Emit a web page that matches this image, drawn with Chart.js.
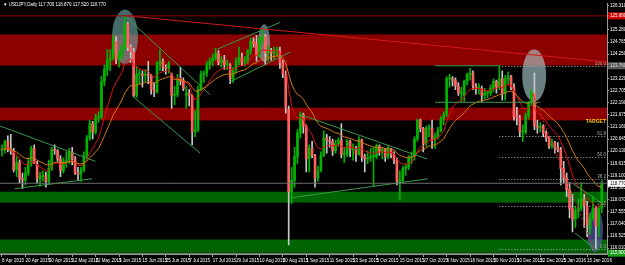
<!DOCTYPE html>
<html>
<head>
<meta charset="utf-8">
<script src="https://cdn.jsdelivr.net/npm/chart.js@4.4.1/dist/chart.umd.min.js"></script>
<style>
html, body { margin: 0; padding: 0; background: #000; }
canvas { display: block; }
</style>
</head>
<body>
<canvas id="c" width="625" height="265"></canvas>
<script>
// USDJPY daily candles, 8 Apr 2015 .. 22 Jan 2016

const symbol = 'USDJPY,Daily';
const dateTicks = ['8 Apr 2015', '20 Apr 2015', '30 Apr 2015', '12 May 2015', '22 May 2015', '3 Jun 2015',
    '15 Jun 2015', '25 Jun 2015', '7 Jul 2015', '17 Jul 2015', '29 Jul 2015', '10 Aug 2015', '20 Aug 2015',
    '1 Sep 2015', '11 Sep 2015', '23 Sep 2015', '5 Oct 2015', '15 Oct 2015', '27 Oct 2015', '6 Nov 2015',
    '18 Nov 2015', '30 Nov 2015', '10 Dec 2015', '22 Dec 2015', '5 Jan 2016', '15 Jan 2016'];
const barsPerTick = 8;

const opens = [
    120.18,120.20,120.55,120.20,120.15,119.35,119.65,118.95,118.90,119.20,
    119.65,120.25,119.60,118.95,119.05,119.10,118.85,119.40,120.20,120.15,
    119.80,119.30,119.70,119.75,120.10,119.80,119.20,119.15,119.35,119.95,
    120.70,121.30,120.95,121.55,121.60,123.10,123.60,124.00,124.10,124.80,
    124.05,124.20,124.50,125.55,124.55,124.35,122.50,123.40,123.40,123.35,
    123.40,123.35,122.75,122.65,123.85,123.95,123.70,123.65,123.40,122.50,
    122.55,123.20,123.10,122.50,122.60,122.50,120.95,121.05,122.75,123.40,
    123.45,123.80,123.95,124.05,124.30,123.90,124.00,123.80,123.80,123.20,
    123.60,123.95,124.10,123.90,123.95,124.40,124.80,124.70,124.20,124.90,
    125.00,124.30,124.40,124.30,124.40,124.40,123.90,123.40,121.90,118.40,
    118.90,119.90,120.90,121.70,121.20,119.80,120.25,119.95,119.00,119.30,
    119.95,120.70,120.60,120.55,120.15,120.45,120.60,120.00,120.00,120.55,
    120.20,120.20,120.00,120.60,119.90,119.80,119.85,119.90,119.90,120.35,
    120.10,120.20,119.90,120.20,120.00,119.75,118.85,118.90,119.40,119.45,
    119.85,119.90,120.65,121.45,121.10,120.45,121.10,121.10,120.60,120.75,
    121.00,121.50,121.70,123.20,123.20,123.15,122.90,122.60,122.50,123.10,
    123.40,123.45,122.90,122.80,122.80,122.50,122.60,122.60,122.80,123.10,
    122.85,123.20,122.60,123.20,123.30,122.85,121.60,121.55,120.95,120.95,
    121.65,122.20,122.60,121.20,121.15,121.20,120.90,120.70,120.35,120.50,
    120.30,120.20,119.40,119.00,118.50,117.70,117.25,117.60,117.70,118.10,
    117.80,116.85,117.30,117.70,116.95,117.70
];
const highs = [
    120.40,120.60,120.78,120.85,120.25,119.90,119.75,119.20,119.45,119.85,
    120.35,120.40,119.70,119.25,119.30,119.25,119.75,120.30,120.40,120.20,
    119.95,119.85,120.10,120.25,120.30,119.90,119.45,119.45,120.10,120.80,
    121.45,121.40,121.70,121.80,123.30,123.80,124.45,124.45,125.05,125.00,
    124.40,124.65,125.85,125.60,124.65,124.50,123.75,123.60,123.55,123.60,
    123.95,123.40,123.05,123.95,124.45,124.05,123.80,123.95,123.45,122.90,
    123.40,123.70,123.25,122.90,122.75,122.55,121.85,122.90,123.55,123.55,
    123.95,124.10,124.25,124.50,124.40,124.15,124.20,124.00,123.85,123.70,
    124.10,124.55,124.30,124.15,124.45,124.95,124.95,125.05,125.00,125.30,
    125.10,124.60,124.50,124.55,124.55,124.55,124.00,123.55,122.05,119.45,
    120.30,121.05,121.80,121.75,121.25,120.40,120.55,120.00,119.50,120.10,
    121.00,120.85,120.75,120.65,120.60,120.70,121.30,120.30,120.65,120.60,
    120.45,120.35,120.75,120.65,120.00,120.15,120.25,120.30,120.45,120.40,
    120.30,120.25,120.35,120.25,120.10,119.85,119.30,119.50,119.60,119.95,
    120.10,120.75,121.50,121.50,121.15,121.20,121.25,121.45,120.90,121.15,
    121.60,121.80,123.30,123.40,123.30,123.25,123.05,122.85,123.15,123.45,
    123.65,123.55,123.00,123.00,122.90,122.80,122.70,122.95,123.20,123.15,
    123.76,123.55,123.35,123.50,123.35,123.00,122.00,121.65,121.25,121.75,
    122.25,122.75,123.45,121.45,121.35,121.25,121.00,120.75,120.65,120.55,
    120.50,120.30,119.70,119.20,118.80,118.30,117.80,118.10,118.80,118.30,
    118.00,117.50,118.20,117.80,117.80,118.87
];
const lows = [
    119.92,120.05,120.10,120.00,119.25,119.05,118.80,118.55,118.70,119.10,
    119.50,119.60,118.80,118.65,118.85,118.60,118.75,119.30,120.00,119.70,
    119.05,119.20,119.45,119.60,119.55,119.15,118.90,118.85,119.25,119.85,
    120.60,120.65,120.85,121.35,121.50,122.90,123.35,123.55,124.00,123.85,
    123.70,124.05,124.45,124.40,123.90,122.45,122.40,123.00,122.85,123.10,
    123.00,122.55,122.45,122.60,123.55,123.55,123.40,123.45,121.95,122.10,
    122.45,122.95,122.70,121.95,122.05,120.40,120.75,120.95,122.70,123.05,
    123.30,123.60,123.75,124.00,123.80,123.70,123.60,123.60,123.00,123.05,
    123.45,123.80,123.75,123.75,123.85,124.25,124.55,123.95,124.10,124.70,
    123.80,123.95,124.00,124.05,124.20,123.65,123.25,121.75,116.15,117.90,
    118.60,119.60,120.70,120.90,119.25,119.25,119.85,118.60,118.85,119.25,
    119.90,120.05,120.30,119.95,120.05,120.35,119.85,119.65,119.90,119.90,
    119.75,119.70,119.95,119.70,119.25,119.60,119.70,118.65,119.80,119.95,
    119.80,119.70,119.80,119.85,119.60,118.70,118.05,118.80,119.10,119.35,
    119.60,119.75,120.55,120.95,120.10,120.35,120.75,120.25,120.25,120.65,
    120.95,121.25,121.60,122.85,122.90,122.75,122.50,122.25,122.25,122.95,
    123.15,122.75,122.55,122.55,122.25,122.35,122.40,122.50,122.65,122.60,
    122.75,122.30,122.30,123.00,122.75,121.45,121.25,120.75,120.55,120.85,
    121.50,122.05,121.05,120.90,120.95,120.75,120.55,120.25,120.25,120.05,
    120.10,118.70,118.80,118.20,117.30,116.70,116.90,117.30,117.60,116.90,
    116.50,116.60,117.20,115.98,116.50,117.52
];
const closes = [
    120.20,120.55,120.20,120.15,119.35,119.65,118.95,118.90,119.20,119.65,
    120.25,119.60,118.95,119.05,119.10,118.85,119.40,120.20,120.15,119.80,
    119.30,119.70,119.75,120.10,119.80,119.20,119.15,119.35,119.95,120.70,
    121.30,120.95,121.55,121.60,123.10,123.60,124.00,124.10,124.80,124.05,
    124.20,124.50,125.55,124.55,124.35,122.50,123.40,123.40,123.35,123.40,
    123.35,122.75,122.65,123.85,123.95,123.70,123.65,123.85,122.50,122.55,
    123.20,123.10,122.80,122.60,122.50,120.95,121.05,122.75,123.40,123.45,
    123.80,123.95,124.05,124.30,123.90,124.00,123.80,123.80,123.20,123.60,
    123.95,124.10,123.90,123.95,124.40,124.80,124.70,124.20,124.90,125.00,
    124.30,124.40,124.30,124.40,124.40,123.90,123.40,122.00,118.40,118.90,
    119.90,120.90,121.70,121.20,119.80,120.25,119.95,119.00,119.30,119.95,
    120.70,120.60,120.55,120.15,120.45,120.60,120.00,120.00,120.55,120.20,
    120.20,120.00,120.60,119.90,119.80,119.85,119.90,119.90,120.35,120.10,
    120.20,119.90,120.20,120.00,119.75,118.85,118.90,119.40,119.45,119.85,
    119.90,120.65,121.45,121.10,120.45,121.10,121.10,120.60,120.75,121.00,
    121.50,121.70,123.20,123.20,123.15,122.90,122.60,122.60,123.10,123.40,
    123.45,122.90,122.80,122.80,122.50,122.60,122.60,122.80,123.10,122.85,
    123.20,122.60,123.20,123.30,122.85,121.60,121.55,120.95,120.95,121.65,
    122.20,122.60,121.20,121.15,121.20,120.90,120.70,120.35,120.50,120.30,
    120.20,119.40,119.00,118.50,117.70,117.25,117.60,117.70,118.10,117.80,
    117.00,117.30,117.70,116.95,117.70,118.77
];

// price axis labels
const yTickValues = [126.310, 125.795, 125.280, 124.765, 124.250, 123.735, 123.220, 122.705, 122.190,
    121.675, 121.160, 120.645, 120.130, 119.615, 119.100, 118.585, 118.070, 117.555, 117.040, 116.525, 116.010];

// drawn objects, in [bar, price] units
const redZones = [[123.77, 125.09], [121.44, 121.98]];
const greenZones = [[117.95, 118.41], [115.85, 116.38]];
const greenLines = [
    [-0.6, 121.20, 32.0, 119.70],
    [4.4, 118.54, 30.8, 118.96],
    [42.0, 125.89, 71.1, 122.53],
    [44.8, 122.45, 67.7, 120.05],
    [73.5, 124.46, 95.0, 125.60],
    [78.0, 123.08, 98.5, 124.34],
    [101.9, 121.69, 145.3, 119.80],
    [99.1, 118.16, 145.6, 118.96],
    [148.0, 122.21, 184.0, 122.21],
    [148.0, 123.76, 170.0, 123.76],
    [195.2, 118.75, 206.2, 117.83],
    [195.9, 116.65, 203.4, 115.93]
];
const highLine = 125.88;
const redTrend = [42.0, 125.89, 206.8, 123.92];
const redDotted = [181.5, 122.53, 202.5, 115.95];
const supportLine = 115.80;
const fibHigh = 123.76;
const fibLow = 115.98;
const fibFromBar = 170;
const fibLevels = [0, 23.6, 38.2, 50, 61.8, 100];
const targetPrice = 121.40;
// ellipses: centre bar, centre price, half width in bars, half height in price
const ellipses = [
    [42.05, 124.99, 4.44, 1.155],
    [89.6, 124.72, 2.05, 0.80],
    [181.9, 123.35, 4.1, 1.11],
    [202.7, 116.80, 2.74, 0.945]
];

const last = closes.length - 1;
const X_MIN = -0.68, X_MAX = 206.8;
const FONT = "'Liberation Sans Narrow', 'Liberation Sans', sans-serif";

// moving averages as the terminal computes them from the closes
function ema(src, n) {
    const k = 2 / (n + 1);
    let e = src[0];
    return src.map((v, i) => { e = i ? v * k + e * (1 - k) : v; return { x: i, y: e }; });
}

const seg = (s, color, width, dash) => ({
    type: 'line',
    data: [{ x: s[0], y: s[1] }, { x: s[2], y: s[3] }],
    borderColor: color, borderWidth: width || 1, borderDash: dash || [],
    pointRadius: 0, order: 1
});

const idx = closes.map((_, i) => i);
const bull = i => closes[i] >= opens[i];

const datasets = [
    {
        type: 'bar', label: 'wick', grouped: false, order: 4,
        data: idx.map(i => ({ x: i, y: [lows[i], highs[i]] })),
        backgroundColor: idx.map(i => bull(i) ? '#00b400' : '#c8c8c8'),
        barThickness: 1, borderWidth: 0
    },
    {
        type: 'bar', label: 'body', grouped: false, order: 3,
        data: idx.map(i => ({ x: i, y: [opens[i], closes[i]] })),
        backgroundColor: idx.map(i => bull(i) ? '#00b400' : '#ff6060'),
        barThickness: 2, minBarLength: 1, borderWidth: 0
    },
    { type: 'line', data: ema(closes, 21), borderColor: '#d2780a', borderWidth: 1, pointRadius: 0, order: 2 },
    { type: 'line', data: ema(closes, 10), borderColor: '#e01010', borderWidth: 1, pointRadius: 0, order: 2 },
    seg([X_MIN, highLine, X_MAX, highLine], '#a00000'),
    seg(redTrend, '#d01818'),
    seg(redDotted, '#e02020', 1, [2, 2]),
    seg([X_MIN, closes[last], X_MAX, closes[last]], '#6e6e6e'),
    seg([X_MIN, supportLine, X_MAX, supportLine], '#6cc46c'),
    ...greenLines.map(s => seg(s, '#3a9a4a'))
];

const ellipseColors = ['rgba(110,170,170,0.62)', 'rgba(140,178,192,0.62)', 'rgba(172,206,206,0.62)', 'rgba(95,95,190,0.62)'];

const overlay = {
    id: 'overlay',
    beforeDatasetsDraw(chart) {
        const { ctx, chartArea: a, scales: { x, y } } = chart;
        ctx.save();
        ctx.beginPath();
        ctx.rect(a.left, a.top, a.right - a.left, a.bottom - a.top);
        ctx.clip();
        const band = (z, c) => {
            const y1 = y.getPixelForValue(z[1]), y0 = y.getPixelForValue(z[0]);
            ctx.fillStyle = c;
            ctx.fillRect(a.left, y1, a.right - a.left, y0 - y1);
        };
        redZones.forEach(z => band(z, '#8c0000'));
        greenZones.forEach(z => band(z, '#006400'));

        ellipses.forEach((e, i) => {
            const cx = x.getPixelForValue(e[0]), cy = y.getPixelForValue(e[1]);
            const rx = x.getPixelForValue(e[0] + e[2]) - cx;
            const ry = cy - y.getPixelForValue(e[1] + e[3]);
            ctx.fillStyle = ellipseColors[i];
            ctx.beginPath();
            ctx.ellipse(cx, cy, rx, ry, 0, 0, Math.PI * 2);
            ctx.fill();
        });

        // fibonacci levels
        ctx.strokeStyle = '#b4b4b4';
        ctx.lineWidth = 1;
        ctx.setLineDash([1, 2]);
        ctx.fillStyle = '#a8a8a8';
        ctx.font = '4.5px ' + FONT;
        ctx.textAlign = 'right';
        ctx.textBaseline = 'bottom';
        const fx = x.getPixelForValue(fibFromBar);
        fibLevels.forEach(l => {
            const py = Math.round(y.getPixelForValue(fibLow + (fibHigh - fibLow) * l / 100)) + 0.5;
            ctx.beginPath();
            ctx.moveTo(fx, py);
            ctx.lineTo(a.right, py);
            ctx.stroke();
            ctx.fillText(l.toFixed(1), a.right - 1, py - 0.5);
        });
        ctx.restore();
    },
    afterDraw(chart) {
        const { ctx, chartArea: a, scales: { y } } = chart;
        ctx.save();
        // header
        ctx.fillStyle = '#ffffff';
        ctx.font = '4.5px ' + FONT;
        ctx.textAlign = 'left';
        ctx.textBaseline = 'middle';
        const hdr = [opens[last], highs[last], lows[last], closes[last]].map(v => v.toFixed(3)).join(' ');
        ctx.fillText('\u25BC ' + symbol + ' ' + hdr, 3, 5);

        // target note
        ctx.fillStyle = '#f0c800';
        ctx.font = 'bold 5px ' + FONT;
        ctx.textAlign = 'right';
        ctx.fillText('TARGET', a.right - 1, y.getPixelForValue(targetPrice));

        // price boxes on the axis
        const boxes = [
            [highLine, '#d00000', '#ffffff'],
            [fibHigh, '#5a5a5a', '#dcdcdc'],
            [closes[last], '#ffffff', '#000000'],
            [supportLine, '#1aa01a', '#ffffff']
        ];
        ctx.font = '4.5px ' + FONT;
        ctx.textAlign = 'left';
        boxes.forEach(b => {
            const py = y.getPixelForValue(b[0]);
            ctx.fillStyle = b[1];
            ctx.fillRect(a.right + 1, py - 3.5, chart.width - a.right - 1, 7);
            ctx.fillStyle = b[2];
            ctx.fillText(b[0].toFixed(3), a.right + 3, py);
        });
        ctx.restore();
    }
};

new Chart(document.getElementById('c'), {
    type: 'bar',
    data: { datasets },
    options: {
        responsive: false,
        animation: false,
        events: [],
        layout: { padding: { top: 1, left: 0, right: 0, bottom: 0 } },
        plugins: { legend: { display: false }, tooltip: { enabled: false } },
        scales: {
            x: {
                type: 'linear', min: X_MIN, max: X_MAX, offset: false,
                afterBuildTicks: s => { s.ticks = dateTicks.map((_, k) => ({ value: k * barsPerTick })); },
                afterFit: s => { s.height = 11; },
                ticks: {
                    autoSkip: false, maxRotation: 0, align: 'start', padding: 1,
                    color: '#ffffff', font: { size: 4.5, family: FONT },
                    callback: v => dateTicks[Math.round(v / barsPerTick)]
                },
                grid: { drawOnChartArea: false, offset: false, color: '#9a9a9a', tickLength: 3 },
                border: { color: '#9a9a9a' }
            },
            y: {
                position: 'right', min: 115.766, max: 126.396,
                afterBuildTicks: s => { s.ticks = yTickValues.map(v => ({ value: v })); },
                afterFit: s => { s.width = 18; },
                ticks: {
                    color: '#ffffff', padding: 1, font: { size: 4.5, family: FONT },
                    callback: v => v.toFixed(3)
                },
                grid: { drawOnChartArea: false, color: '#9a9a9a', tickLength: 2 },
                border: { color: '#9a9a9a' }
            }
        }
    },
    plugins: [overlay]
});
</script>
</body>
</html>
